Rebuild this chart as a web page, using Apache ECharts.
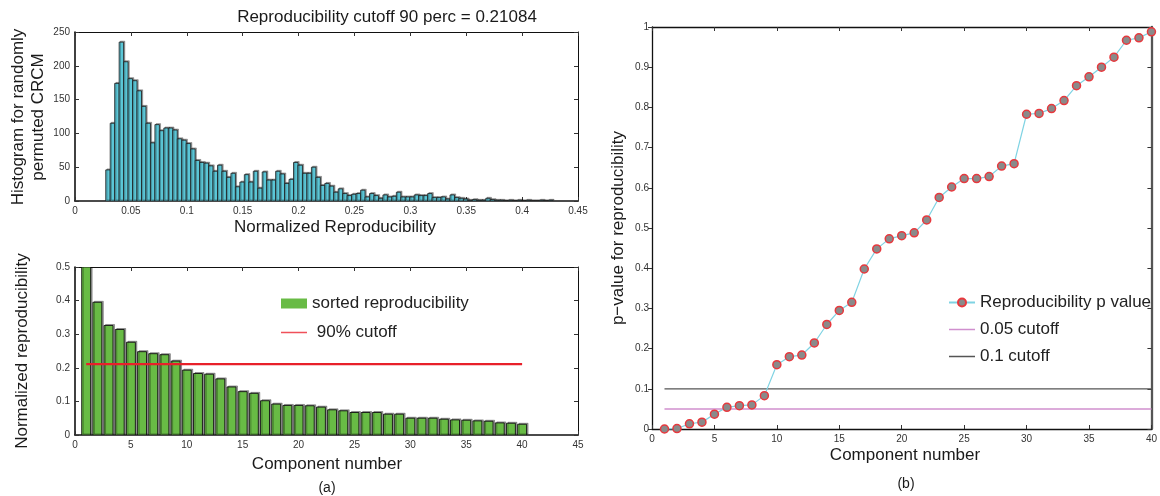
<!DOCTYPE html>
<html>
<head>
<meta charset="utf-8">
<script src="https://cdn.jsdelivr.net/npm/echarts@6/dist/echarts.min.js"></script>
<style>html,body{margin:0;padding:0;background:#fff}#c{width:1160px;height:496px}</style>
</head>
<body>
<div id="c"></div>
<script>
// ---- data ----
const histTitle = 'Reproducibility cutoff 90 perc = 0.21084';
const histStart = 0.0275;
const histBinWidth = 0.004;
const histCounts = [46,115,174,235,206,181,178,163,140,115,86,113,104,108,108,105,92,90,85,77,
  60,57,56,52,44,53,44,35,41,21,28,39,28,44,19,43,31,31,44,40,
  26,32,57,53,41,41,50,35,23,26,22,13,18,11,8,10,11,16,6,11,
  8,4,9,6,7,13,6,6,6,9,8,8,11,5,5,6,3,9,5,4,
  3,1,2,1,1,4,2,1,1,0,1,0,1,0,1,0,0,1,0,1];
const components = [1,2,3,4,5,6,7,8,9,10,11,12,13,14,15,16,17,18,19,20,21,22,23,24,25,26,27,28,29,30,31,32,33,34,35,36,37,38,39,40];
const sortedRepro = [0.500,0.395,0.326,0.314,0.276,0.248,0.242,0.239,0.220,0.193,0.183,0.181,0.167,0.143,0.129,0.124,0.102,0.092,0.088,0.088,
  0.087,0.083,0.075,0.072,0.067,0.067,0.067,0.062,0.062,0.050,0.050,0.050,0.047,0.045,0.044,0.042,0.041,0.036,0.035,0.032];
const cutoff90 = 0.21084;
const pValues = [0.000,0.001,0.013,0.017,0.037,0.054,0.058,0.060,0.083,0.160,0.180,0.184,0.214,0.260,0.295,0.315,0.398,0.448,0.473,0.481,
  0.488,0.520,0.576,0.602,0.623,0.623,0.628,0.654,0.660,0.783,0.785,0.797,0.817,0.854,0.876,0.900,0.925,0.967,0.973,0.988];
const pCut05 = 0.05;
const pCut10 = 0.1;

// ---- build ----
const FONT = 'Liberation Sans, Arial, Helvetica, sans-serif';
const histData = histCounts.map((c, i) => [histStart + i * histBinWidth, histStart + (i + 1) * histBinWidth, c]);
const barData = components.map((c, i) => [c, sortedRepro[i]]);
const pData = components.map((c, i) => [c, pValues[i]]);
const first = components[0], last = components[components.length - 1];

// legend icon: a thin horizontal stroke centred in a 26x10 box
const lineIcon = (t) => 'path://M0,0h26v0.01h-26z M0,' + (5 - t / 2) + 'h26v' + t + 'h-26z M0,9.99h26v0.01h-26z';

const lbl = {fontSize: 10, color: '#333', fontFamily: FONT};
function mkAxes(gridIndex, xmin, xmax, xint, ymin, ymax, yint, opts) {
  opts = opts || {};
  const lw = opts.lw || 1.5, lwThin = opts.lwThin || 1;
  const xs = [
    {type: 'value', gridIndex, position: 'bottom', min: xmin, max: xmax, interval: xint,
     axisLine: {onZero: false, lineStyle: {color: '#111', width: lw}},
     axisTick: {show: true, inside: true, length: 4, lineStyle: {color: '#333'}},
     axisLabel: Object.assign({margin: 5}, lbl), splitLine: {show: false}},
    {type: 'value', gridIndex, position: 'top', min: xmin, max: xmax, interval: xint,
     axisLine: {onZero: false, lineStyle: {color: '#111', width: lwThin}},
     axisTick: {show: true, inside: true, length: 4, lineStyle: {color: '#333'}},
     axisLabel: {show: false}, splitLine: {show: false}}
  ];
  const ys = [
    {type: 'value', gridIndex, position: 'left', min: ymin, max: ymax, interval: yint,
     axisLine: {onZero: false, lineStyle: {color: '#111', width: lw}},
     axisTick: {show: true, inside: !opts.leftOut, length: 4, lineStyle: {color: '#333'}},
     axisLabel: Object.assign({margin: opts.leftOut ? 3 : 5}, lbl), splitLine: {show: false}},
    {type: 'value', gridIndex, position: 'right', min: ymin, max: ymax, interval: yint,
     axisLine: {onZero: false, lineStyle: {color: opts.rightColor || '#111', width: opts.rightW || lwThin}},
     axisTick: {show: true, inside: true, length: 4, lineStyle: {color: '#333'}},
     axisLabel: {show: false}, splitLine: {show: false}}
  ];
  return {xs, ys};
}
const a0 = mkAxes(0, 0, 0.45, 0.05, 0, 250, 50, {lw: 1.6});
const a1 = mkAxes(1, 0, 45, 5, 0, 0.5, 0.1, {lw: 1.6});
const a2 = mkAxes(2, 0, 40, 5, 0, 1, 0.1, {lw: 1.3, lwThin: 1.3, leftOut: true, rightColor: '#555', rightW: 2.3});

const txt = (text, x, y, size, rot) => ({
  type: 'text', x, y, rotation: rot || 0,
  style: {text, fontSize: size, fontFamily: FONT, fill: '#1a1a1a', align: 'center', verticalAlign: 'middle', lineHeight: 20}
});

const option = {
  animation: false,
  backgroundColor: '#fff',
  textStyle: {fontFamily: FONT},
  grid: [
    {left: 75, top: 32, width: 503, height: 169},
    {left: 75, top: 267, width: 503, height: 168},
    {left: 652, top: 27, width: 502, height: 402}
  ],
  xAxis: [...a0.xs, ...a1.xs, ...a2.xs],
  yAxis: [...a0.ys, ...a1.ys, ...a2.ys],
  legend: [
    {orient: 'vertical', left: 276, top: 290, itemWidth: 26, itemHeight: 10, itemGap: 12, itemTextGap: 12,
     textStyle: {fontSize: 17, color: '#222', fontFamily: FONT},
     data: [{name: 'sorted reproducibility', icon: 'rect'}, {name: ' 90% cutoff', icon: lineIcon(1.6)}]},
    {orient: 'vertical', left: 943, top: 289, itemWidth: 26, itemHeight: 10, itemGap: 10, itemTextGap: 7,
     textStyle: {fontSize: 17, color: '#222', fontFamily: FONT},
     data: ['Reproducibility p value', {name: '0.05 cutoff', icon: lineIcon(1.6)}, {name: '0.1 cutoff', icon: lineIcon(1.4)}]}
  ],
  graphic: [
    txt(histTitle, 387, 17, 17),
    txt('Normalized Reproducibility', 335, 227, 17),
    txt('Histogram for randomly\npermuted CRCM', 28, 117, 17, Math.PI / 2),
    txt('Normalized reproducibility', 22, 351, 17, Math.PI / 2),
    txt('Component number', 327, 464, 17),
    txt('(a)', 327, 488, 14),
    txt('p\u2212value for reproducibility', 618, 228, 17, Math.PI / 2),
    txt('Component number', 905, 455, 17),
    txt('(b)', 906, 484, 14)
  ],
  series: [
    {type: 'custom', name: 'hist', xAxisIndex: 0, yAxisIndex: 0, data: histData, clip: true,
     encode: {x: [0, 1], y: 2},
     renderItem: function (params, api) {
       const p0 = api.coord([api.value(0), api.value(2)]);
       const p1 = api.coord([api.value(1), 0]);
       return {type: 'rect', shape: {x: p0[0], y: p0[1], width: p1[0] - p0[0], height: p1[1] - p0[1]},
         style: {fill: '#5bc6d6', stroke: '#1a1a1a', lineWidth: 0.8,
           shadowColor: 'rgba(0,0,0,0.35)', shadowOffsetX: 1.2, shadowOffsetY: -1, shadowBlur: 0}};
     }},
    {type: 'custom', name: 'sorted reproducibility', xAxisIndex: 2, yAxisIndex: 2, data: barData, clip: true,
     itemStyle: {color: '#68bb45'},
     encode: {x: 0, y: 1},
     renderItem: function (params, api) {
       const p0 = api.coord([api.value(0) - 0.4, api.value(1)]);
       const p1 = api.coord([api.value(0) + 0.4, 0]);
       return {type: 'rect', shape: {x: p0[0], y: p0[1], width: p1[0] - p0[0], height: p1[1] - p0[1]},
         style: {fill: '#68bb45', stroke: '#111', lineWidth: 0.9,
           shadowColor: 'rgba(0,0,0,0.35)', shadowOffsetX: 1.5, shadowOffsetY: -1, shadowBlur: 0}};
     }},
    {type: 'line', name: ' 90% cutoff', xAxisIndex: 2, yAxisIndex: 2, symbol: 'none',
     data: [[first, cutoff90], [last, cutoff90]], lineStyle: {color: '#e8202a', width: 2.2}, itemStyle: {color: '#f0505a'}, z: 5},
    {type: 'line', name: '0.1 cutoff', xAxisIndex: 4, yAxisIndex: 4, symbol: 'none',
     data: [[first, pCut10], [last, pCut10]], lineStyle: {color: '#555', width: 1.3}, itemStyle: {color: '#555'}},
    {type: 'line', name: '0.05 cutoff', xAxisIndex: 4, yAxisIndex: 4, symbol: 'none',
     data: [[first, pCut05], [last, pCut05]], lineStyle: {color: '#d08fce', width: 1.5}, itemStyle: {color: '#d08fce'}},
    {type: 'line', name: 'Reproducibility p value', xAxisIndex: 4, yAxisIndex: 4, data: pData,
     symbol: 'circle', symbolSize: 8, showSymbol: true, clip: false,
     lineStyle: {color: '#7fd3e3', width: 1.2},
     itemStyle: {color: '#8a8a8a', borderColor: '#e8383d', borderWidth: 1.5}, z: 6}
  ]
};
const chart = echarts.init(document.getElementById('c'), null, {renderer: 'canvas'});
chart.setOption(option);
</script>
</body>
</html>
